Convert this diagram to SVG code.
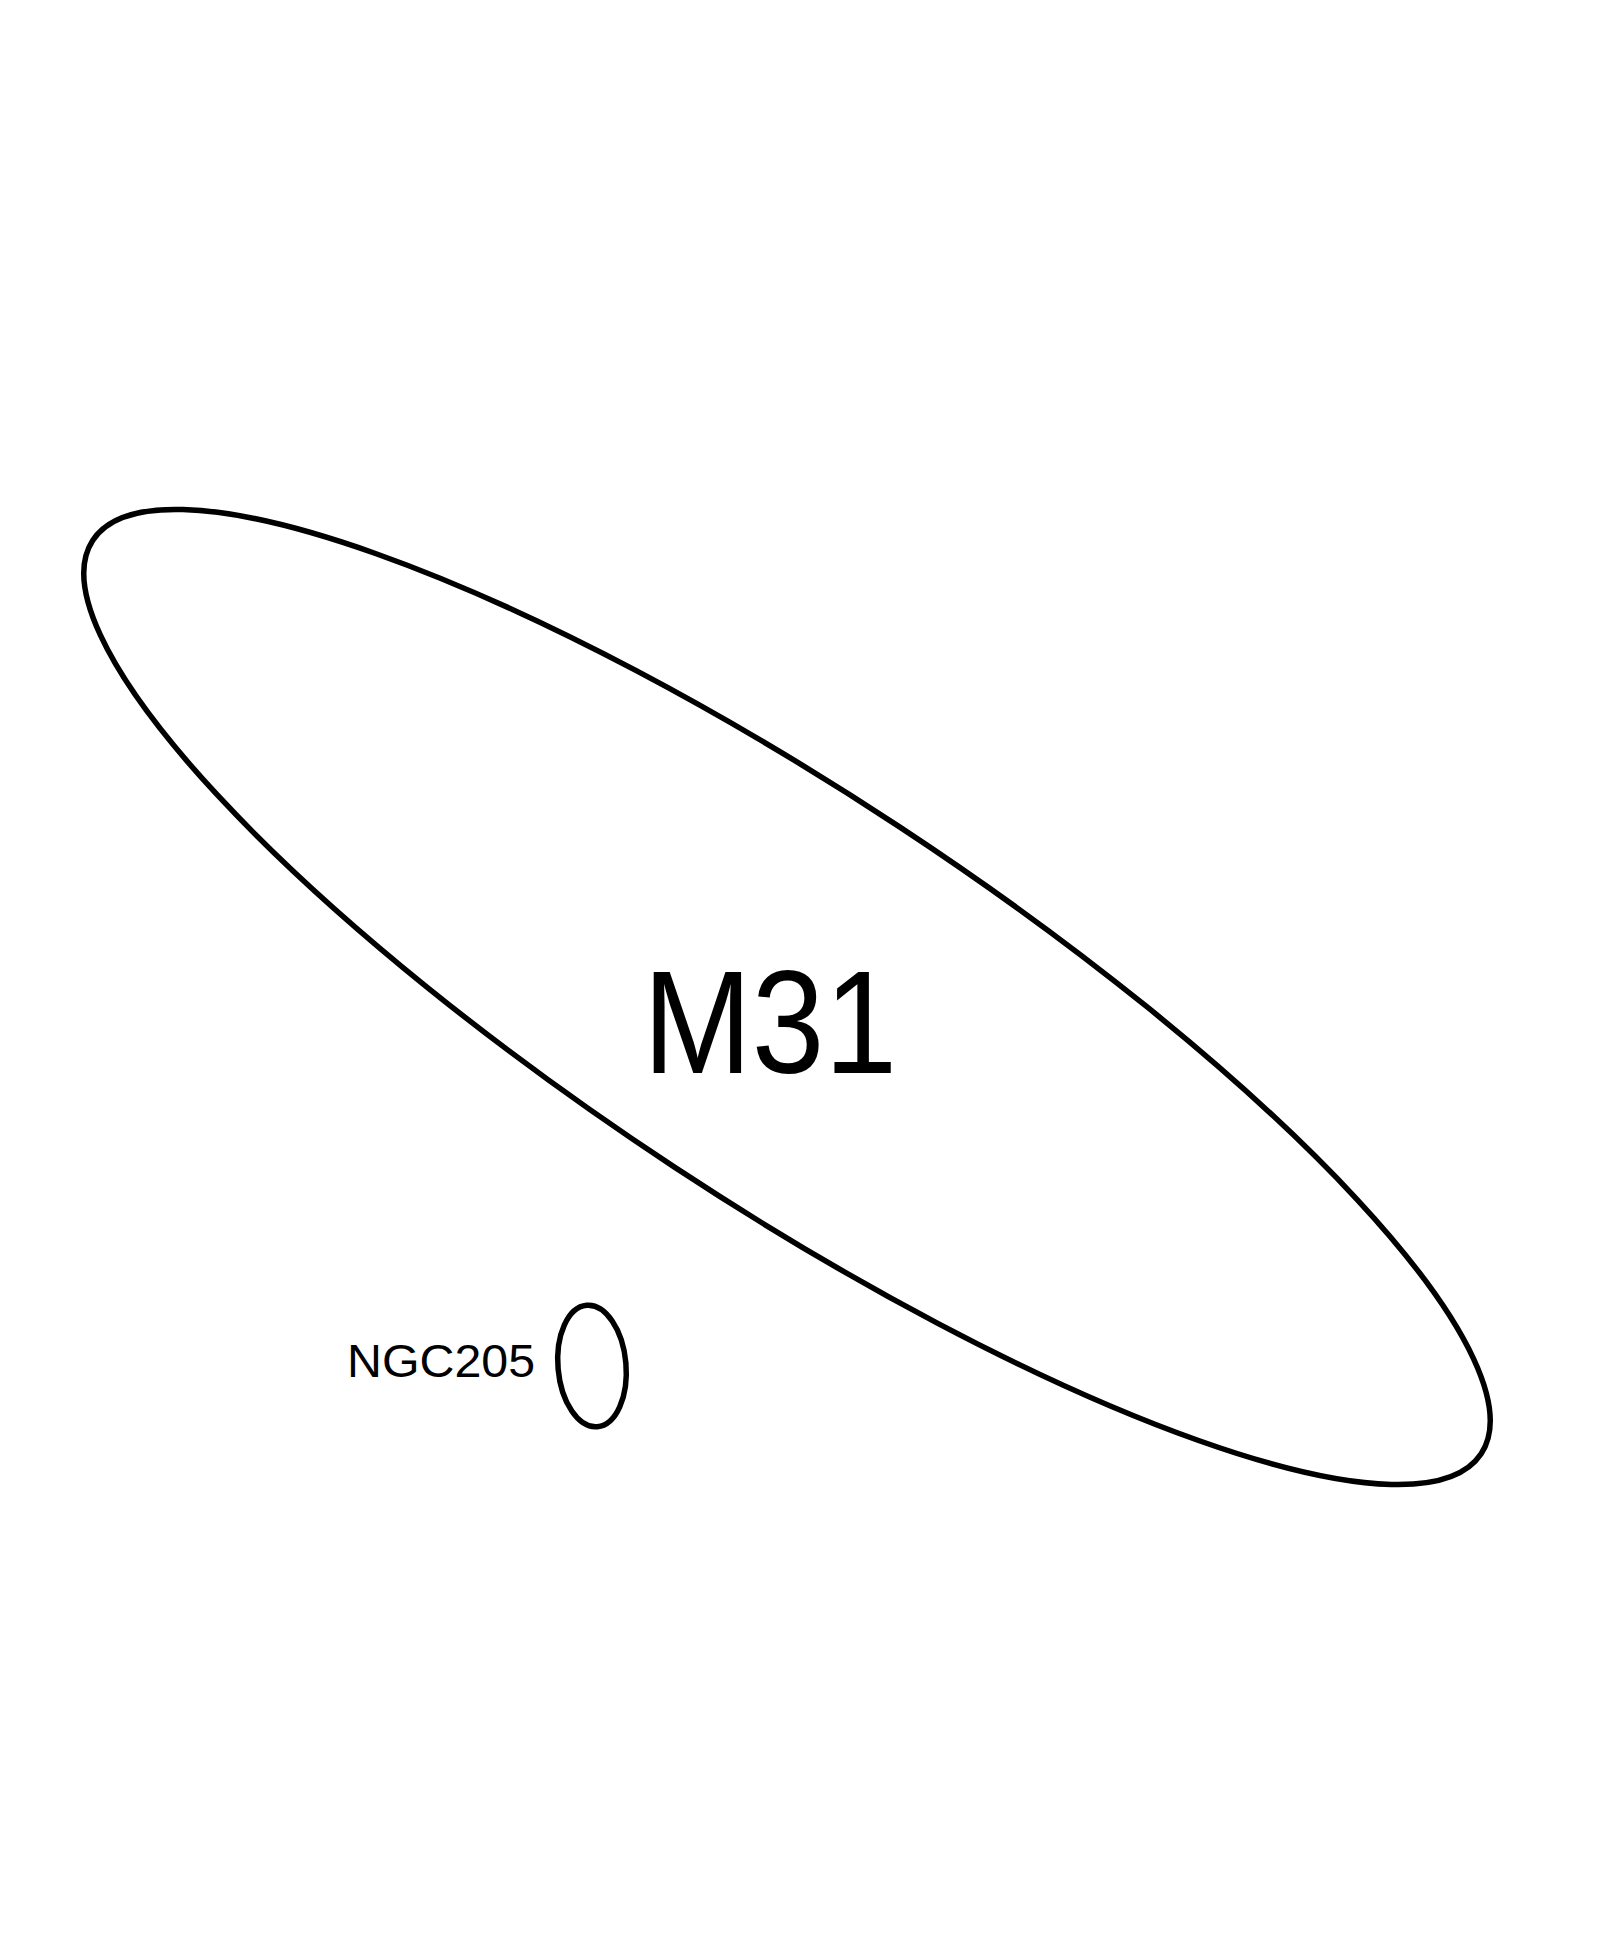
<svg xmlns="http://www.w3.org/2000/svg" width="1606" height="1952" viewBox="0 0 1606 1952">
<style>
.outline{fill:none;stroke:#000;stroke-width:5.5}
.lbl{font-family:"Liberation Sans",Arial,sans-serif;fill:#000}
</style>
<rect width="1606" height="1952" fill="#fff"/>
<g id="M31">
<ellipse class="outline" cx="787" cy="997" rx="831" ry="204" transform="rotate(33.35 787 997)"/>
<text class="lbl" x="643" y="1073" font-size="146" textLength="254" lengthAdjust="spacingAndGlyphs">M31</text>
</g>
<g id="NGC205">
<ellipse class="outline" cx="592" cy="1366" rx="34" ry="61" transform="rotate(-5 592 1366)"/>
<text class="lbl" x="347" y="1377" font-size="47" textLength="188" lengthAdjust="spacingAndGlyphs">NGC205</text>
</g>
<g id="connectors"></g>
</svg>
